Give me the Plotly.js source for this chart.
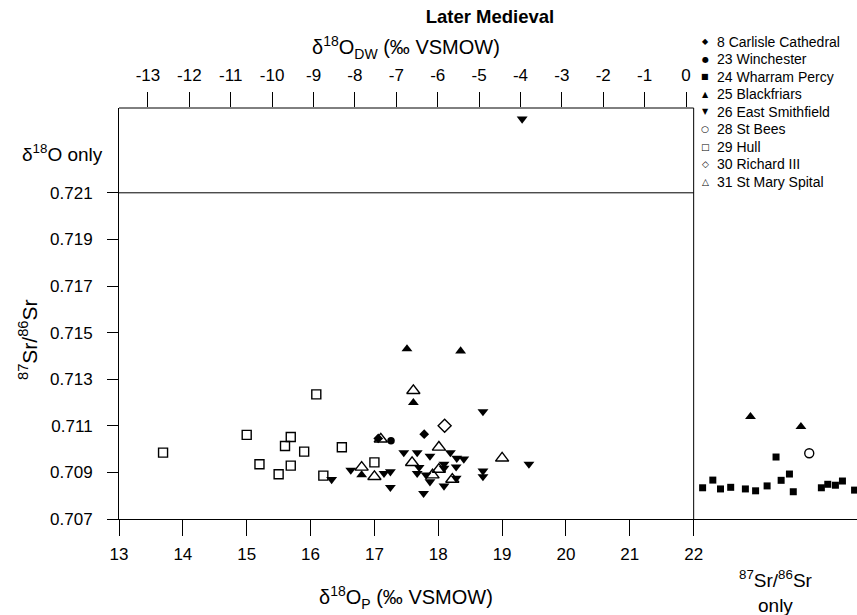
<!DOCTYPE html>
<html>
<head>
<meta charset="utf-8">
<script src="https://cdn.plot.ly/plotly-3.0.1.min.js"></script>
<style>html,body{margin:0;padding:0;background:#fff;}#chart{width:857px;height:615px;}</style>
</head>
<body>
<div id="chart"></div>
<script>
// ---- Data (δ18O_P in ‰ VSMOW, 87Sr/86Sr) ----
// Positions x > 22 are the "87Sr/86Sr only" strip (no δ18O value)
const carlisleX = [17.78, 17.06];
const carlisleY = [0.71064, 0.71046];

const winchesterX = [17.26];
const winchesterY = [0.71036];

const wharramX = [22.14, 22.30, 22.42, 22.58, 22.81, 22.97, 23.15, 23.29, 23.37, 23.50, 23.56, 24.00, 24.10, 24.22, 24.33, 24.52];
const wharramY = [0.70834, 0.70867, 0.70829, 0.70836, 0.70829, 0.70821, 0.70842, 0.70966, 0.70866, 0.70893, 0.70817, 0.70834, 0.70849, 0.70845, 0.70863, 0.70824];

const blackfriarsX = [17.51, 18.35, 17.61, 16.80, 22.89, 23.68];
const blackfriarsY = [0.71430, 0.71421, 0.71199, 0.70889, 0.71139, 0.71096];

const smithfieldX = [16.33, 16.63, 17.15, 17.25, 17.25, 17.46, 17.67, 17.87, 18.19, 18.29, 18.40, 18.09, 18.28, 17.67, 17.70, 17.81, 17.87, 17.77, 18.09, 18.28, 18.09, 18.70, 18.70, 18.70, 19.42];
const smithfieldY = [0.70870, 0.70910, 0.70896, 0.70903, 0.70836, 0.70985, 0.70985, 0.70970, 0.70985, 0.70961, 0.70958, 0.70936, 0.70924, 0.70896, 0.70922, 0.70889, 0.70860, 0.70810, 0.70842, 0.70875, 0.70918, 0.71161, 0.70906, 0.70882, 0.70936];
// East Smithfield, δ18O only (read on the δ18O_DW axis)
const smithfieldOnlyDW = [-3.96];
const smithfieldOnlyY = [0.72417];

const stBeesX = [23.81];
const stBeesY = [0.70982];

const hullX = [13.69, 15.00, 15.20, 15.60, 15.69, 15.50, 15.69, 15.90, 16.09, 16.49, 17.00, 16.20];
const hullY = [0.70985, 0.71061, 0.70935, 0.71013, 0.71052, 0.70892, 0.70929, 0.70989, 0.71235, 0.71008, 0.70943, 0.70886];

const richardX = [18.10];
const richardY = [0.71100];

const spitalX = [17.10, 18.01, 17.59, 16.80, 17.00, 18.01, 17.91, 18.22, 19.00, 17.61];
const spitalY = [0.71043, 0.71008, 0.70942, 0.70922, 0.70882, 0.70913, 0.70889, 0.70870, 0.70961, 0.71251];

// ---- Axis ticks ----
const xTicks = [13, 14, 15, 16, 17, 18, 19, 20, 21, 22];
const dwTicks = [-13, -12, -11, -10, -9, -8, -7, -6, -5, -4, -3, -2, -1, 0];
const yTicks = [0.707, 0.709, 0.711, 0.713, 0.715, 0.717, 0.719, 0.721];
const yTickText = ['0.707', '0.709', '0.711', '0.713', '0.715', '0.717', '0.719', '0.721'];

const legendNames = ['8 Carlisle Cathedral', '23 Winchester', '24 Wharram Percy', '25 Blackfriars',
  '26 East Smithfield', '28 St Bees', '29 Hull', '30 Richard III', '31 St Mary Spital'];
const legendGlyphs = ['◆', '●', '■', '▲', '▼', '○', '□', '◇', '△'];

const FONT = 'Liberation Sans, Arial, sans-serif';
const BLK = '#000000';

const styles = [
  {symbol: 'diamond', size: 7.5, open: false},
  {symbol: 'circle', size: 7.5, open: false},
  {symbol: 'square', size: 7, open: false},
  {symbol: 'triangle-up', size: 9.5, open: false},
  {symbol: 'triangle-down', size: 9.5, open: false},
  {symbol: 'circle-open', size: 9, open: true},
  {symbol: 'square-open', size: 9, open: true},
  {symbol: 'diamond-open', size: 10, open: true},
  {symbol: 'triangle-up-open', size: 11.5, open: true}
];
const seriesX = [carlisleX, winchesterX, wharramX, blackfriarsX, smithfieldX, stBeesX, hullX, richardX, spitalX];
const seriesY = [carlisleY, winchesterY, wharramY, blackfriarsY, smithfieldY, stBeesY, hullY, richardY, spitalY];

function mk(st) {
  return {symbol: st.symbol, size: st.size, color: BLK,
    line: {color: BLK, width: st.open ? 1.4 : 0}};
}

const traces = [];
for (let i = 0; i < seriesX.length; i++) {
  traces.push({
    type: 'scatter', mode: 'markers', x: seriesX[i], y: seriesY[i],
    name: legendNames[i], showlegend: false, marker: mk(styles[i]), hoverinfo: 'x+y+name'
  });
}
traces.push({
  type: 'scatter', mode: 'markers', x: smithfieldOnlyDW, y: smithfieldOnlyY, xaxis: 'x2', yaxis: 'y',
  name: legendNames[4], showlegend: false, marker: mk(styles[4])
});

// plot area geometry (pixels) used to place the legend text
const PL = 119, PW = 738, PT = 108, PH = 411;
const px2x = p => (p - PL) / PW;
const px2y = p => (PT + PH - p) / PH;

const annotations = [
  {text: 'δ<sup>18</sup>O<sub>DW</sub> (‰ VSMOW)', xref: 'paper', yref: 'paper', x: px2x(406), y: px2y(48),
    showarrow: false, xanchor: 'center', yanchor: 'middle', font: {family: FONT, size: 20, color: BLK}},
  {text: 'δ<sup>18</sup>O<sub>P</sub> (‰ VSMOW)', xref: 'paper', yref: 'paper', x: px2x(406), y: px2y(597),
    showarrow: false, xanchor: 'center', yanchor: 'middle', font: {family: FONT, size: 20, color: BLK}},
  {text: '<sup>87</sup>Sr/<sup>86</sup>Sr', xref: 'paper', yref: 'paper', x: px2x(28), y: px2y(340),
    showarrow: false, textangle: -90, xanchor: 'center', yanchor: 'middle', font: {family: FONT, size: 21, color: BLK}},
  {text: 'δ<sup>18</sup>O only', xref: 'paper', yref: 'paper', x: px2x(105), y: px2y(153),
    showarrow: false, xanchor: 'right', yanchor: 'middle', font: {family: FONT, size: 19, color: BLK}},
  {text: '<sup>87</sup>Sr/<sup>86</sup>Sr<br>only', xref: 'paper', yref: 'paper', x: px2x(776), y: px2y(591),
    showarrow: false, xanchor: 'center', yanchor: 'middle', align: 'center', font: {family: FONT, size: 19, color: BLK}}
];
// legend drawn as text entries
for (let i = 0; i < legendNames.length; i++) {
  const cy = 41.7 + 17.5 * i;
  annotations.push({text: legendGlyphs[i], xref: 'paper', yref: 'paper', x: px2x(705), y: px2y(cy),
    showarrow: false, xanchor: 'center', yanchor: 'middle',
    font: {family: 'DejaVu Sans, sans-serif', size: (i >= 5 ? 9 : 8), color: BLK}});
  annotations.push({text: legendNames[i], xref: 'paper', yref: 'paper', x: px2x(715), y: px2y(cy),
    showarrow: false, xanchor: 'left', yanchor: 'middle',
    font: {family: FONT, size: 14, color: BLK}});
}

const axisCommon = {
  showgrid: false, zeroline: false, ticks: 'outside', tickcolor: BLK, tickwidth: 1,
  tickfont: {family: FONT, size: 17, color: BLK}, fixedrange: true
};

const layout = {
  width: 857, height: 615,
  margin: {l: PL, r: 857 - PL - PW, t: PT, b: 615 - PT - PH, pad: 0},
  paper_bgcolor: '#ffffff', plot_bgcolor: '#ffffff',
  font: {family: FONT, color: BLK},
  title: {text: '<b>Later Medieval</b>', font: {family: FONT, size: 18.5, color: BLK},
    x: 490 / 857, xref: 'container', xanchor: 'center', y: 1 - 17 / 615, yref: 'container', yanchor: 'middle'},
  xaxis: Object.assign({}, axisCommon, {
    range: [13, 24.558], tickmode: 'array', tickvals: xTicks, ticktext: xTicks.map(String),
    ticklen: 16, showline: true, linecolor: BLK, linewidth: 1, ticklabelstandoff: 4
  }),
  xaxis2: Object.assign({}, axisCommon, {
    overlaying: 'x', side: 'top', anchor: 'y',
    range: [-13.70, 4.13], tickmode: 'array', tickvals: dwTicks, ticktext: dwTicks.map(String),
    ticklen: 15, showline: false, ticklabelstandoff: 4
  }),
  yaxis: Object.assign({}, axisCommon, {
    range: [0.707, 0.72464], tickmode: 'array', tickvals: yTicks, ticktext: yTickText,
    ticklen: 11, showline: true, linecolor: BLK, linewidth: 1, ticklabelstandoff: 11
  }),
  showlegend: false,
  shapes: [
    {type: 'line', xref: 'x', yref: 'paper', x0: 13, x1: 22, y0: 1, y1: 1, line: {color: BLK, width: 1}},
    {type: 'line', xref: 'x', yref: 'paper', x0: 22, x1: 22, y0: 0, y1: 1, line: {color: BLK, width: 1}},
    {type: 'line', xref: 'x', yref: 'y', x0: 13, x1: 22, y0: 0.721, y1: 0.721, line: {color: BLK, width: 1}}
  ],
  annotations: annotations
};

Plotly.newPlot('chart', traces, layout, {displayModeBar: false, responsive: false});
</script>
</body>
</html>
